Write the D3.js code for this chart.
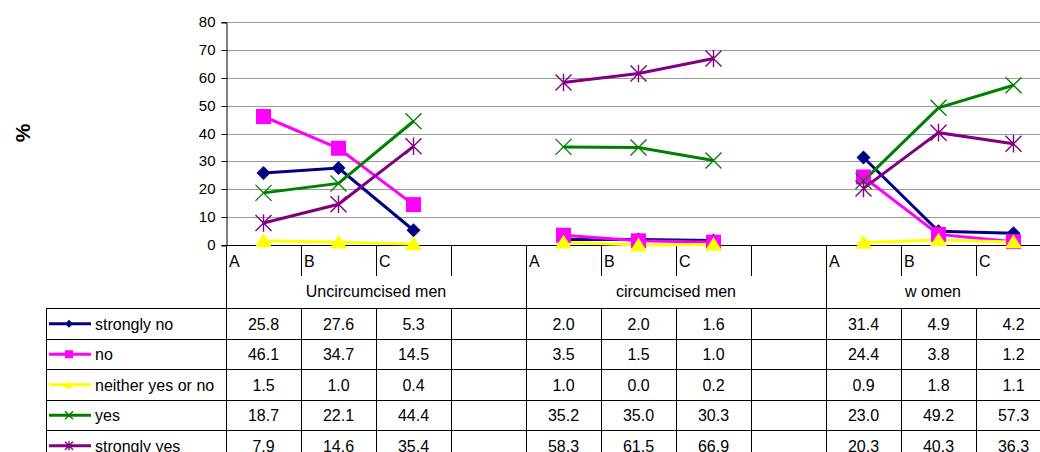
<!DOCTYPE html>
<html><head><meta charset="utf-8">
<script src="https://cdn.jsdelivr.net/npm/d3@7"></script>
<style>
html,body{margin:0;padding:0;background:#fff;overflow:hidden}
text{font-family:"Liberation Sans",Arial,sans-serif}
</style></head>
<body><svg id="c" width="1040" height="452"></svg>
<script>
const groups = ["Uncircumcised men", "circumcised men", "w omen"];
const subCats = ["A", "B", "C", ""];
const yTicks = [0, 10, 20, 30, 40, 50, 60, 70, 80];
const seriesNames = ["strongly no", "no", "neither yes or no", "yes", "strongly yes"];
const seriesColors = ["#000080", "#FF00FF", "#FFFF00", "#008000", "#800080"];
const seriesMarkers = ["diamond", "square", "triangle", "x", "star"];
// values per series: [group][A,B,C]
const strongNo = [[25.8, 27.6, 5.3], [2.0, 2.0, 1.6], [31.4, 4.9, 4.2]];
const no = [[46.1, 34.7, 14.5], [3.5, 1.5, 1.0], [24.4, 3.8, 1.2]];
const neither = [[1.5, 1.0, 0.4], [1.0, 0.0, 0.2], [0.9, 1.8, 1.1]];
const yes = [[18.7, 22.1, 44.4], [35.2, 35.0, 30.3], [23.0, 49.2, 57.3]];
const strongYes = [[7.9, 14.6, 35.4], [58.3, 61.5, 66.9], [20.3, 40.3, 36.3]];
const allSeries = [strongNo, no, neither, yes, strongYes];

const W = 1040, H = 452;
const FS = 16;
const svg = d3.select("#c");
const keys = [];
groups.forEach((g, gi) => subCats.forEach((s, si) => keys.push(gi + "_" + si)));
const x = d3.scaleBand().domain(keys).range([226, 226 + 75 * keys.length]).paddingInner(0).paddingOuter(0);
const y = d3.scaleLinear().domain([0, 80]).range([245, 22]);
const bw = x.bandwidth();

// gridlines
svg.append("g").selectAll("line").data(yTicks.filter(d => d > 0)).join("line")
  .attr("x1", 226).attr("x2", W).attr("y1", d => Math.round(y(d)) + 0.5).attr("y2", d => Math.round(y(d)) + 0.5)
  .attr("stroke", "#999").attr("stroke-width", 1);

// y axis
const yAxis = d3.axisLeft(y).tickValues(yTicks).tickSize(5).tickPadding(6);
const yg = svg.append("g").attr("transform", "translate(226.5,0.5)").call(yAxis);
yg.select(".domain").attr("stroke", "#000");
yg.selectAll(".tick line").attr("stroke", "#000");
yg.selectAll("text").attr("font-size", 15).attr("fill", "#000").attr("font-family", "Liberation Sans, Arial");
yg.selectAll(".tick").attr("transform", d => `translate(0,${Math.round(y(d))})`);

svg.append("text").attr("transform", "translate(30,133) rotate(-90)").attr("text-anchor", "middle")
  .attr("font-weight", "bold").attr("font-size", 21).text("%");

// x axis line
svg.append("line").attr("x1", 226).attr("x2", W).attr("y1", Math.round(y(0)) + 0.5).attr("y2", Math.round(y(0)) + 0.5)
  .attr("stroke", "#000");

// table geometry
const rowTop = 308, rowH = 30.5;
const tableG = svg.append("g").attr("shape-rendering", "crispEdges");
keys.forEach((k, i) => {
  const x0 = Math.round(x(k)) + 0.5;
  const si = i % 4;
  tableG.append("line").attr("x1", x0).attr("x2", x0)
    .attr("y1", 245).attr("y2", si === 0 ? H : 276).attr("stroke", "#000");
  if (si !== 0) {
    tableG.append("line").attr("x1", x0).attr("x2", x0).attr("y1", rowTop).attr("y2", H).attr("stroke", "#000");
  }
  svg.append("text").attr("x", x(k) + 3).attr("y", 267).attr("font-size", FS).text(subCats[si]);
});
groups.forEach((g, gi) => {
  const x0 = x(gi + "_0"), x1 = Math.min(x0 + 4 * bw, W);
  svg.append("text").attr("x", (x0 + x1) / 2).attr("y", 297).attr("text-anchor", "middle").attr("font-size", FS).text(g);
});
for (let r = 0; r <= seriesNames.length; r++) {
  const yy = Math.round(rowTop + r * rowH) + 0.5;
  tableG.append("line").attr("x1", 46).attr("x2", W).attr("y1", yy).attr("y2", yy).attr("stroke", "#000");
}
tableG.append("line").attr("x1", 46.5).attr("x2", 46.5).attr("y1", rowTop).attr("y2", H).attr("stroke", "#000");

function marker(sel, type, color, s) {
  if (type === "diamond") {
    sel.append("path").attr("d", `M0,${-s}L${s},0L0,${s}L${-s},0Z`).attr("fill", color);
  } else if (type === "square") {
    sel.append("rect").attr("x", -s).attr("y", -s).attr("width", 2 * s).attr("height", 2 * s).attr("fill", color);
  } else if (type === "triangle") {
    sel.append("path").attr("d", `M0,${-s * 1.0}L${s * 1.15},${s * 0.85}L${-s * 1.15},${s * 0.85}Z`).attr("fill", color);
  } else if (type === "x") {
    sel.append("path").attr("d", `M${-s},${-s}L${s},${s}M${-s},${s}L${s},${-s}`).attr("stroke", color).attr("stroke-width", 1.4).attr("fill", "none");
  } else if (type === "star") {
    sel.append("path").attr("d", `M${-s},${-s}L${s},${s}M${-s},${s}L${s},${-s}M0,${-s * 1.1}L0,${s * 1.1}`).attr("stroke", color).attr("stroke-width", 1.4).attr("fill", "none");
  }
}
const msize = [7, 7.5, 7.5, 8, 8];

const line = d3.line().x(d => d.x).y(d => d.y);
const pts = allSeries.map(ser => ser.map((gv, gi) => gv.map((v, si) => ({ x: x(gi + "_" + si) + bw / 2, y: y(v) }))));
pts.forEach((ser, i) => ser.forEach(gp => {
  svg.append("path").attr("d", line(gp)).attr("fill", "none").attr("stroke", seriesColors[i]).attr("stroke-width", 3);
}));
pts.forEach((ser, i) => ser.forEach(gp => gp.forEach(p => {
  const g = svg.append("g").attr("transform", `translate(${p.x},${p.y})`);
  marker(g, seriesMarkers[i], seriesColors[i], msize[i]);
})));

seriesNames.forEach((name, i) => {
  const cy = rowTop + i * rowH + rowH / 2 + 0.5;
  svg.append("line").attr("x1", 49).attr("x2", 91).attr("y1", cy).attr("y2", cy).attr("stroke", seriesColors[i]).attr("stroke-width", 3);
  const g = svg.append("g").attr("transform", `translate(69,${cy})`);
  marker(g, seriesMarkers[i], seriesColors[i], 4);
  svg.append("text").attr("x", 95).attr("y", cy + 6).attr("font-size", FS).text(name);
  allSeries[i].forEach((gv, gi) => gv.forEach((v, si) => {
    svg.append("text").attr("x", x(gi + "_" + si) + bw / 2).attr("y", cy + 6).attr("text-anchor", "middle")
      .attr("font-size", FS).text(v.toFixed(1));
  }));
});
</script></body></html>
